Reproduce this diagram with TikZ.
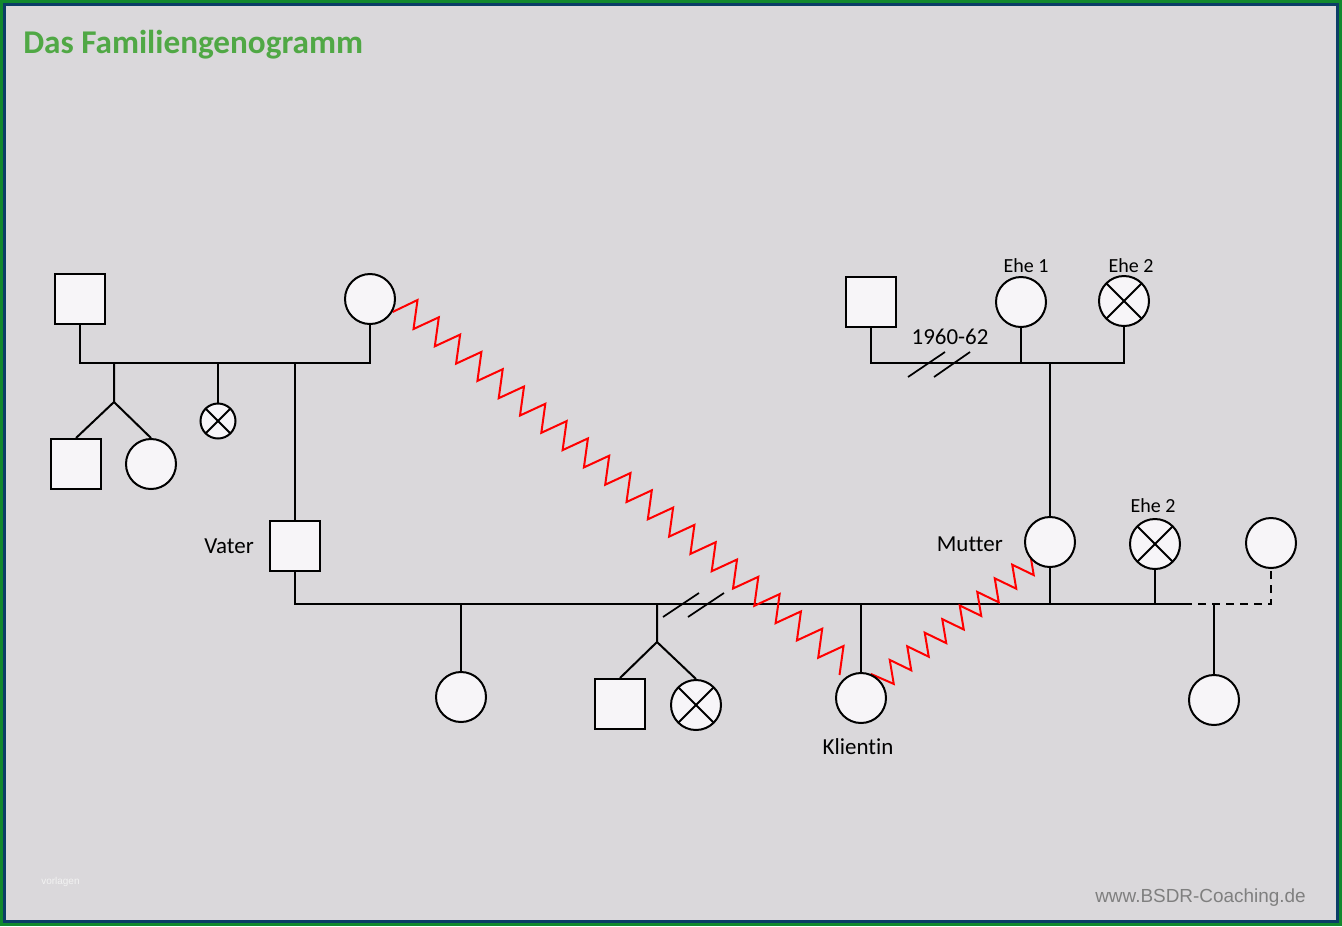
\documentclass[tikz,border=0pt]{standalone}
\usepackage{fontspec}
\setmainfont{Carlito}[Ligatures={NoCommon}]
\newfontfamily\arialfont{Liberation Sans}
\definecolor{bgc}{HTML}{DAD8DB}
\definecolor{fillc}{HTML}{F7F5F8}
\definecolor{outerg}{HTML}{12892E}
\definecolor{navyc}{HTML}{0B3D66}
\definecolor{titleg}{HTML}{50A845}
\definecolor{wwwc}{HTML}{7F7F7F}
\definecolor{wmark}{HTML}{F2F2F2}
\pgfdeclarelayer{bg}
\pgfdeclarelayer{frame}
\pgfsetlayers{frame,bg,main}
\tikzset{
  sq/.style={draw=black, line width=1.5pt, fill=fillc, rectangle, minimum size=37.5pt, inner sep=0pt},
  circ/.style={draw=black, line width=1.5pt, fill=fillc, circle, minimum size=37.5pt, inner sep=0pt},
  xcirc/.style={circ, path picture={
      \draw[line width=1.5pt] (path picture bounding box.south west) -- (path picture bounding box.north east);
      \draw[line width=1.5pt] (path picture bounding box.north west) -- (path picture bounding box.south east);}},
  conn/.style={draw=black, line width=1.5pt},
  dashconn/.style={conn, dash pattern=on 6pt off 4.5pt},
  slash/.style={draw=black, line width=1.3pt},
  zig/.style={draw=red, line width=1.5pt, line join=miter},
  lbl/.style={inner sep=0pt, font=\fontsize{17.2pt}{19pt}\selectfont},
  ehe/.style={inner sep=0pt, font=\fontsize{15pt}{17pt}\selectfont},
}
\begin{document}
\begin{tikzpicture}[x=0.75pt,y=-0.75pt]
\useasboundingbox (0,0) rectangle (1342,926);
% frame
\begin{pgfonlayer}{frame}
\fill[outerg] (0,0) rectangle (1342,926);
\fill[navyc] (3,3) rectangle (1339,923);
\fill[bgc] (6,6) rectangle (1336,920);
\end{pgfonlayer}
% texts
\node[anchor=base west, inner sep=0pt, text=titleg, font=\bfseries\fontsize{24.9pt}{28pt}\selectfont] (title) at (23,53) {Das Familiengenogramm};
\node[anchor=base east, inner sep=0pt, text=wwwc, font=\arialfont\fontsize{14.2pt}{16pt}\selectfont] (www) at (1306,902) {www.BSDR-Coaching.de};
\node[anchor=base west, inner sep=0pt, text=wmark, font=\arialfont\fontsize{7.5pt}{9pt}\selectfont] (wm) at (41,884) {vorlagen};

% persons
\node[sq] (gf) at (80,299) {};
\node[circ] (gm) at (370,299) {};
\node[sq] (u1) at (76,464) {};
\node[circ] (u2) at (151,464) {};
\node[xcirc, minimum size=26.25pt] (u3) at (218,421) {};
\node[sq] (vater) at (295,546) {};
\node[circ] (s1) at (461,697) {};
\node[sq] (s2) at (620,704) {};
\node[xcirc] (s3) at (696,705) {};
\node[circ] (kl) at (861,698) {};
\node[circ] (mu) at (1050,542) {};
\node[xcirc] (e2) at (1155,544) {};
\node[circ] (p3) at (1271,543) {};
\node[circ] (h1) at (1214,700) {};
\node[sq] (mgf) at (871,302) {};
\node[circ] (mgm1) at (1021,302) {};
\node[xcirc] (mgm2) at (1124,301) {};

% labels
\node[lbl, anchor=base east] (lvater) at (254,553) {Vater};
\node[lbl, anchor=base east] (lmutter) at (1003,551) {Mutter};
\node[lbl, anchor=base] (lkl) at (858,754) {Klientin};
\node[lbl, anchor=base] (lyear) at (950,344) {1960-62};
\node[ehe, anchor=base] (le1) at (1026,272) {Ehe 1};
\node[ehe, anchor=base] (le2) at (1131,272) {Ehe 2};
\node[ehe, anchor=base] (le3) at (1153,512) {Ehe 2};

% junction coordinates
\coordinate (b1) at (0,363);
\coordinate (b2) at (0,604);
\coordinate (t1) at (114,363);
\coordinate (t1j) at (114,402);
\coordinate (t2) at (657,604);
\coordinate (t2j) at (657,642);
\coordinate (ds) at (1184,604);

\begin{pgfonlayer}{bg}
% left family
\draw[conn] (gf.south) -- (gf.south |- b1) -| (gm.south);
\draw[conn] (t1) -- (t1j) -- (u1.north);
\draw[conn] (t1j) -- (u2.north);
\draw[conn] (u3.north) -- (u3.north |- b1);
\draw[conn] (vater.north) -- (vater.north |- b1);
% main bar
\draw[conn] (vater.south) -- (vater.south |- b2) -- (ds);
\draw[dashconn] (ds) -| (p3.south);
\draw[conn] (s1.north) -- (s1.north |- b2);
\draw[conn] (t2) -- (t2j) -- (s2.north);
\draw[conn] (t2j) -- (s3.north);
\draw[conn] (kl.north) -- (kl.north |- b2);
\draw[conn] (mu.south) -- (mu.south |- b2);
\draw[conn] (e2.south) -- (e2.south |- b2);
\draw[conn] (h1.north) -- (h1.north |- b2);
% right family
\draw[conn] (mgf.south) -- (mgf.south |- b1) -| (mgm2.south);
\draw[conn] (mgm1.south) -- (mgm1.south |- b1);
\draw[conn] (mu.north) -- (mu.north |- b1);
% divorce slashes
\draw[slash] (663,617) -- (699,593);
\draw[slash] (688,617) -- (724,593);
\draw[slash] (908,377) -- (945,352);
\draw[slash] (934,377) -- (970,352);
% conflict zigzags
\draw[zig] (gm.-30) -- ++(25,-12) -- ++(-4,29)
  \foreach \k in {1,...,20}{ -- ++(25.3,-11.7) -- ++(-4,29) };
\draw[zig] (kl.68) -- ++(23,10) -- ++(-4,-24)
  \foreach \k in {1,...,8}{ -- ++(21.5,10.4) -- ++(-4,-24) };
\end{pgfonlayer}
\end{tikzpicture}
\end{document}
